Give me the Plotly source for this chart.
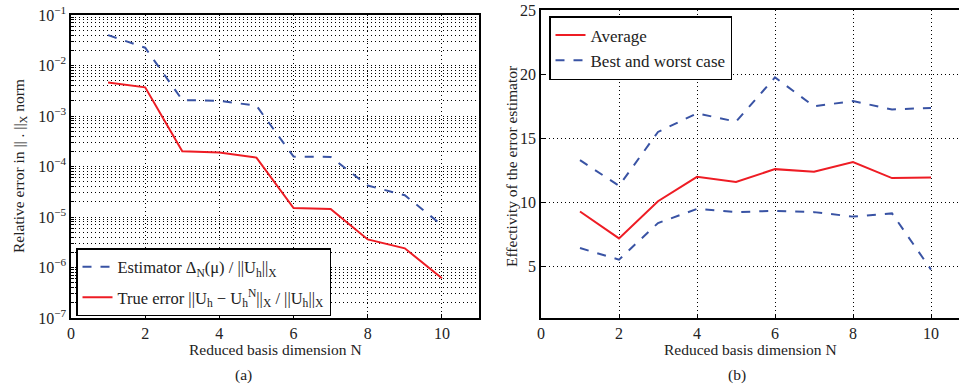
import plotly.graph_objects as go

N = [1, 2, 3, 4, 5, 6, 7, 8, 9, 10]
estimator = [4.0e-2, 2.25e-2, 2.07e-3, 2.0e-3, 1.6e-3, 1.57e-4, 1.55e-4, 4.2e-5, 2.7e-5, 6.9e-6]
true_error = [4.6e-3, 3.7e-3, 2.0e-4, 1.9e-4, 1.5e-4, 1.5e-5, 1.44e-5, 3.6e-6, 2.4e-6, 6.1e-7]
eff_avg = [9.3, 7.2, 10.1, 12.0, 11.6, 12.6, 12.4, 13.15, 11.9, 11.95]
eff_best = [13.3, 11.3, 15.5, 16.95, 16.3, 19.75, 17.5, 17.9, 17.25, 17.37]
eff_worst = [6.45, 5.55, 8.4, 9.5, 9.25, 9.35, 9.25, 8.9, 9.15, 4.77]
x_ticks = [0, 2, 4, 6, 8, 10]
eff_ticks = [5, 10, 15, 20, 25]
decades = [-7, -6, -5, -4, -3, -2, -1]

RED = "#ee1c24"
BLUE = "#3953a4"
FONT = "Liberation Serif"
TXT = "#222222"

log_vals, log_text = [], []
for d in decades:
    for m in range(1, 10):
        if d == -1 and m > 1:
            break
        log_vals.append(m * 10.0 ** d)
        log_text.append(f"10<sup>\u2212{-d}</sup>" if m == 1 else "")

fig = go.Figure()
fig.add_trace(go.Scatter(x=N, y=estimator, mode="lines", xaxis="x", yaxis="y",
                         line=dict(color=BLUE, width=2, dash="dash"),
                         name="Estimator \u0394<sub>N</sub>(\u03bc) / ||U<sub>h</sub>||<sub>X</sub>",
                         legend="legend", legendgroup="est"))
fig.add_trace(go.Scatter(x=N, y=true_error, mode="lines", xaxis="x", yaxis="y",
                         line=dict(color=RED, width=2),
                         name="True error ||U<sub>h</sub> \u2212 U<sub>h</sub><sup>N</sup>||<sub>X</sub> / ||U<sub>h</sub>||<sub>X</sub>",
                         legend="legend", legendgroup="true"))
fig.add_trace(go.Scatter(x=N, y=eff_avg, mode="lines", xaxis="x2", yaxis="y2",
                         line=dict(color=RED, width=2), name="Average", legend="legend2"))
fig.add_trace(go.Scatter(x=N, y=eff_best, mode="lines", xaxis="x2", yaxis="y2",
                         line=dict(color=BLUE, width=2, dash="dash"),
                         name="Best and worst case", legend="legend2", legendgroup="bw"))
fig.add_trace(go.Scatter(x=N, y=eff_worst, mode="lines", xaxis="x2", yaxis="y2",
                         line=dict(color=BLUE, width=2, dash="dash"),
                         name="Best and worst case", legend="legend2", legendgroup="bw",
                         showlegend=False))

W, H = 959, 390
grid = dict(showgrid=True, gridcolor="black", gridwidth=1, griddash="1px,3px")
tickfont = dict(family=FONT, size=16, color=TXT)
titlefont = dict(family=FONT, size=15.5, color=TXT)
common = dict(tickcolor="black", showline=True, linecolor="black", linewidth=1.5,
              zeroline=False, tickfont=tickfont, automargin=False, **grid)

fig.update_layout(
    width=W, height=H,
    margin=dict(l=0, r=0, t=0, b=0, autoexpand=False),
    paper_bgcolor="white", plot_bgcolor="white",
    font=dict(family=FONT, size=15, color=TXT),
    xaxis=dict(domain=[71 / W, 479 / W], range=[0, 11], tickvals=x_ticks,
               ticks="inside", ticklen=4, mirror=True, anchor="y", **common),
    yaxis=dict(domain=[1 - 318 / H, 1 - 15 / H], type="log", range=[-7, -1],
               tickvals=log_vals, ticktext=log_text, ticks="inside", ticklen=3,
               mirror=True, anchor="x", **common),
    xaxis2=dict(domain=[541 / W, 1.0], range=[0, (W - 541) / 39.0], tickvals=x_ticks,
                ticks="inside", ticklen=4, mirror=True, anchor="y2", **common),
    yaxis2=dict(domain=[1 - 318 / H, 1 - 10 / H], range=[1, 25], tickvals=eff_ticks,
                ticks="inside", ticklen=4, mirror=False, anchor="x2", **common),
    legend=dict(x=76 / W, y=1 - 248 / H, xanchor="left", yanchor="top",
                bgcolor="white", bordercolor="black", borderwidth=1.5,
                font=dict(family=FONT, size=16.5, color=TXT), tracegroupgap=6,
                itemwidth=30),
    legend2=dict(x=549 / W, y=1 - 16 / H, xanchor="left", yanchor="top",
                 bgcolor="white", bordercolor="black", borderwidth=1.5,
                 font=dict(family=FONT, size=17, color=TXT), tracegroupgap=0,
                 itemwidth=30),
    annotations=[
        dict(text="Reduced basis dimension N", x=(71 + 479) / 2 / W, y=1 - 349 / H,
             xanchor="center", yanchor="middle",
             xref="paper", yref="paper", showarrow=False, font=titlefont),
        dict(text="Reduced basis dimension N", x=(541 + 959) / 2 / W, y=1 - 349 / H,
             xanchor="center", yanchor="middle",
             xref="paper", yref="paper", showarrow=False, font=titlefont),
        dict(text="Relative error in || . ||<sub>X</sub> norm", x=19 / W, y=1 - 166 / H,
             xanchor="center", yanchor="middle",
             xref="paper", yref="paper", showarrow=False, textangle=-90, font=titlefont),
        dict(text="Effectivity of the error estimator", x=511 / W, y=1 - 166 / H,
             xanchor="center", yanchor="middle",
             xref="paper", yref="paper", showarrow=False, textangle=-90, font=titlefont),
        dict(text="(a)", x=243 / W, y=1 - 375 / H, xanchor="center", yanchor="middle",
             xref="paper", yref="paper", showarrow=False, font=titlefont),
        dict(text="(b)", x=737 / W, y=1 - 375 / H, xanchor="center", yanchor="middle",
             xref="paper", yref="paper", showarrow=False, font=titlefont),
    ],
)

fig.write_html("out.html", config={"displayModeBar": False},
               post_script="document.body.style.margin='0';")
